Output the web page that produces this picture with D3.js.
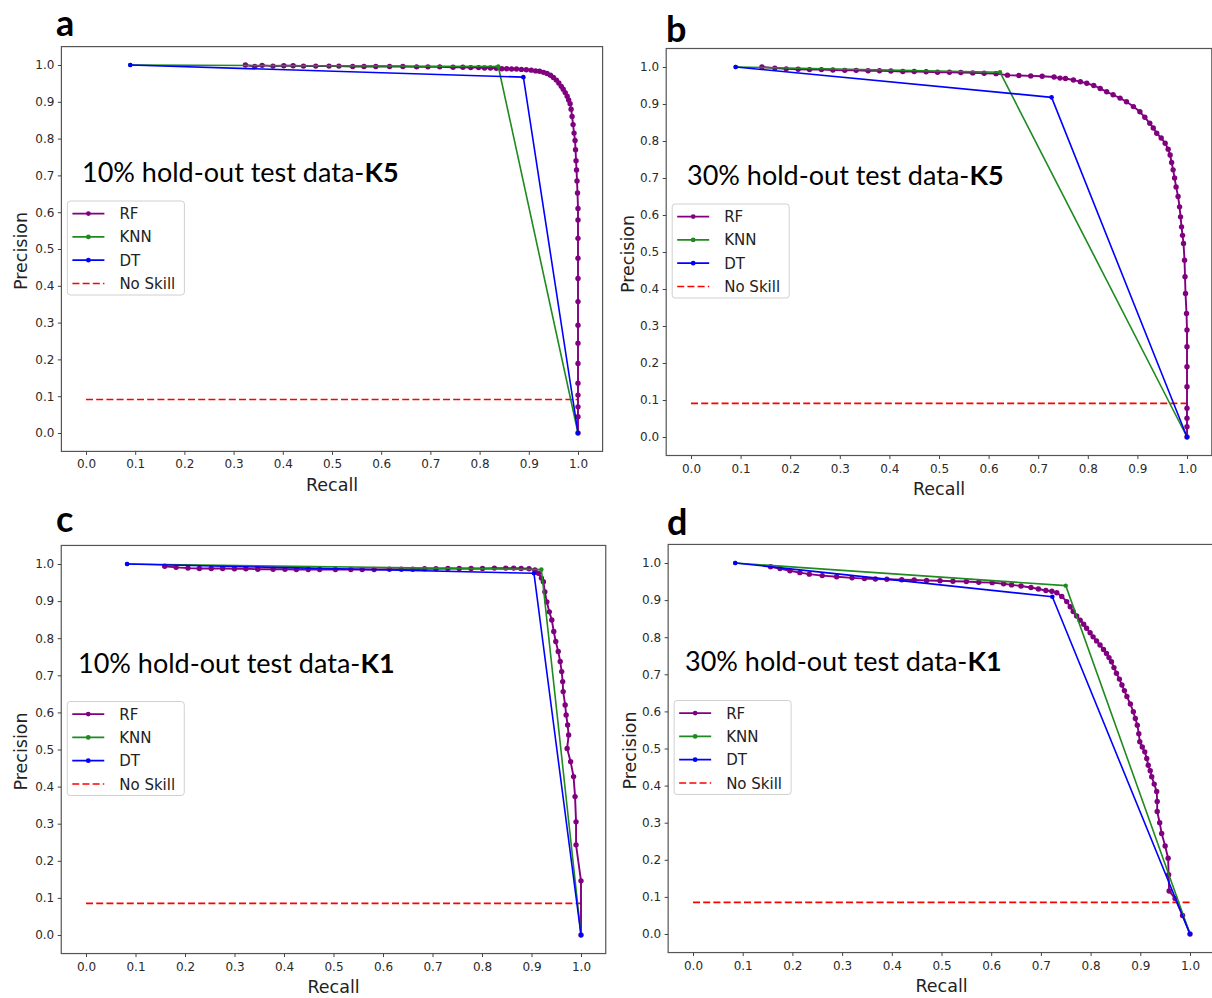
<!DOCTYPE html>
<html>
<head>
<meta charset="utf-8">
<script src="https://cdn.jsdelivr.net/npm/d3@7"></script>
<style>
  body { margin: 0; background: #fff; }
  svg { display: block; }
  .tick text { font-family: "DejaVu Sans", sans-serif; font-size: 12px; fill: #2a2a2a; }
  .tick line { stroke: #444; }
</style>
</head>
<body>
<svg id="fig" width="1212" height="998"></svg>
<script>
// ---------------- data ----------------
const xTicks = [0.0, 0.1, 0.2, 0.3, 0.4, 0.5, 0.6, 0.7, 0.8, 0.9, 1.0];
const yTicks = [0.0, 0.1, 0.2, 0.3, 0.4, 0.5, 0.6, 0.7, 0.8, 0.9, 1.0];
const panelLetters = ["a", "b", "c", "d"];
const noteText = ["10% hold-out test data-", "30% hold-out test data-", "10% hold-out test data-", "30% hold-out test data-"];
const noteBold = ["K5", "K5", "K1", "K1"];
const seriesNames = ["RF", "KNN", "DT", "No Skill"];
const noSkill = [0.091, 0.091, 0.085, 0.085];

// panel a : 10% K5
const rfRecallA = [0.324,0.343,0.358,0.380,0.402,0.421,0.442,0.467,0.494,0.514,0.542,0.565,0.589,0.617,0.644,0.672,0.695,0.719,0.746,0.766,0.782,0.798,0.810,0.822,0.834,0.845,0.855,0.865,0.875,0.885,0.895,0.905,0.914,0.922,0.930,0.937,0.944,0.950,0.956,0.961,0.966,0.970,0.974,0.978,0.981,0.984,0.986,0.988,0.990,0.992,0.994,0.995,0.996,0.997,0.998,0.999,
  1.0,1.0,1.0,1.0,1.0,1.0,1.0,1.0,1.0,1.0,1.0,1.0,1.0,1.0];
const rfPrecisionA = [1.000,0.996,0.999,0.997,0.998,0.998,0.997,0.997,0.997,0.997,0.996,0.996,0.996,0.996,0.996,0.995,0.995,0.995,0.994,0.994,0.993,0.993,0.992,0.992,0.991,0.990,0.990,0.989,0.989,0.988,0.987,0.986,0.984,0.983,0.980,0.977,0.972,0.966,0.959,0.951,0.942,0.934,0.925,0.915,0.905,0.895,0.880,0.860,0.838,0.815,0.795,0.770,0.740,0.715,0.685,0.652,
  0.610,0.579,0.529,0.475,0.420,0.357,0.293,0.244,0.189,0.135,0.103,0.071,0.044,0.0];
const knnRecallA = [0.09, 0.838, 1.0];
const knnPrecisionA = [1.0, 0.996, 0.0];
const dtRecallA = [0.09, 0.889, 1.0];
const dtPrecisionA = [1.0, 0.967, 0.0];

// panel b : 30% K5
const rfRecallB = [0.143,0.169,0.192,0.216,0.239,0.263,0.286,0.310,0.333,0.357,0.380,0.403,0.427,0.450,0.474,0.497,0.521,0.544,0.568,0.591,0.615,0.638,0.661,0.685,0.708,0.732,0.744,0.755,0.771,0.785,0.798,0.812,0.825,0.838,0.851,0.865,0.878,0.892,0.905,0.915,0.925,0.932,0.939,0.948,0.956,0.962,0.966,0.969,0.972,0.975,0.978,0.982,0.985,0.987,0.989,0.991,0.993,0.995,0.996,0.997,0.999,
  1.0,1.0,1.0,1.0,1.0,1.0,1.0,1.0];
const rfPrecisionB = [1.000,0.997,0.995,0.994,0.993,0.993,0.992,0.991,0.991,0.990,0.990,0.989,0.988,0.988,0.987,0.986,0.986,0.985,0.984,0.983,0.982,0.978,0.977,0.976,0.975,0.973,0.970,0.969,0.965,0.960,0.956,0.950,0.942,0.933,0.925,0.916,0.906,0.893,0.879,0.864,0.848,0.835,0.821,0.808,0.794,0.778,0.762,0.742,0.722,0.700,0.676,0.650,0.622,0.595,0.568,0.545,0.523,0.478,0.433,0.388,0.334,
  0.289,0.244,0.190,0.136,0.078,0.051,0.028,0.0];
const knnRecallB = [0.09, 0.623, 1.0];
const knnPrecisionB = [1.0, 0.986, 0.0];
const dtRecallB = [0.09, 0.727, 1.0];
const dtPrecisionB = [1.0, 0.918, 0.0];

// panel c : 10% K1
const rfRecallC = [0.159,0.182,0.206,0.229,0.253,0.276,0.300,0.323,0.347,0.378,0.402,0.425,0.449,0.472,0.504,0.535,0.558,0.582,0.613,0.637,0.660,0.684,0.707,0.731,0.754,0.778,0.801,0.825,0.848,0.864,0.879,0.895,0.907,
  0.914,0.920,0.924,0.927,0.931,0.936,0.941,0.945,0.949,0.954,0.958,0.961,0.963,0.964,0.968,0.970,0.973,0.975,0.972,0.979,0.985,0.988,0.990,0.990,1.0,1.0];
const rfPrecisionC = [0.994,0.991,0.989,0.988,0.988,0.988,0.987,0.987,0.986,0.986,0.986,0.985,0.985,0.985,0.985,0.985,0.985,0.985,0.986,0.986,0.986,0.987,0.987,0.988,0.988,0.988,0.988,0.989,0.989,0.989,0.988,0.987,0.984,
  0.975,0.962,0.952,0.925,0.898,0.871,0.849,0.818,0.791,0.764,0.737,0.710,0.683,0.656,0.620,0.593,0.566,0.539,0.503,0.467,0.427,0.373,0.305,0.243,0.146,0.0];
const knnRecallC = [0.083, 0.920, 1.0];
const knnPrecisionC = [1.0, 0.985, 0.0];
const dtRecallC = [0.083, 0.905, 1.0];
const dtPrecisionC = [1.0, 0.975, 0.0];

// panel d : 30% K1
const rfRecallD = [0.156,0.175,0.195,0.215,0.234,0.260,0.289,0.320,0.345,0.367,0.390,0.420,0.445,0.470,0.497,0.523,0.550,0.575,0.602,0.625,0.641,0.660,0.680,0.695,0.710,0.722,0.732,0.742,0.752,0.759,0.765,0.772,0.779,0.786,0.792,0.799,0.805,0.812,0.819,0.826,0.832,0.837,0.842,0.847,0.852,0.858,0.863,0.868,0.873,0.880,0.886,0.890,0.894,0.897,0.899,0.904,0.909,0.913,0.916,0.920,0.923,0.928,0.933,0.934,0.934,0.939,0.943,0.950,0.956,0.957,0.958,0.970,0.985,1.0];
const rfPrecisionD = [0.990,0.985,0.979,0.974,0.970,0.966,0.963,0.960,0.958,0.957,0.956,0.955,0.954,0.953,0.952,0.951,0.950,0.948,0.947,0.944,0.941,0.938,0.934,0.930,0.926,0.924,0.920,0.910,0.896,0.882,0.869,0.857,0.846,0.835,0.824,0.812,0.801,0.790,0.779,0.767,0.756,0.745,0.734,0.718,0.703,0.687,0.671,0.656,0.640,0.620,0.599,0.581,0.563,0.540,0.518,0.504,0.491,0.473,0.455,0.440,0.424,0.404,0.384,0.357,0.330,0.300,0.271,0.237,0.204,0.160,0.116,0.096,0.050,0.0];
const knnRecallD = [0.085, 0.750, 1.0];
const knnPrecisionD = [1.0, 0.939, 0.0];
const dtRecallD = [0.085, 0.723, 1.0];
const dtPrecisionD = [1.0, 0.909, 0.0];

// ---------------- layout ----------------
const colors = { RF: "#800080", KNN: "#1f8a1f", DT: "#0000ff", "No Skill": "#ff0000" };

const panels = [
  { x0: 61.4, x1: 602.6, y0: 46.6, y1: 451.4, letter: [56, 36], note: [82, 182], ylab: 34.5,
    rf: [rfRecallA, rfPrecisionA], knn: [knnRecallA, knnPrecisionA], dt: [dtRecallA, dtPrecisionA] },
  { x0: 666.2, x1: 1211.8, y0: 48.5, y1: 455.5, letter: [666, 42], note: [687, 185], ylab: 32,
    rf: [rfRecallB, rfPrecisionB], knn: [knnRecallB, knnPrecisionB], dt: [dtRecallB, dtPrecisionB] },
  { x0: 61.25, x1: 605.75, y0: 545.45, y1: 953.55, letter: [56, 532], note: [78, 672.5], ylab: 34.5,
    rf: [rfRecallC, rfPrecisionC], knn: [knnRecallC, knnPrecisionC], dt: [dtRecallC, dtPrecisionC] },
  { x0: 668.15, x1: 1214.85, y0: 544.45, y1: 952.55, letter: [667, 535], note: [685, 670.5], ylab: 32,
    rf: [rfRecallD, rfPrecisionD], knn: [knnRecallD, knnPrecisionD], dt: [dtRecallD, dtPrecisionD] }
];

const svg = d3.select("#fig");
const fmt = d3.format(".1f");

panels.forEach((p, i) => {
  const x = d3.scaleLinear().domain([-0.05, 1.05]).range([p.x0, p.x1]);
  const y = d3.scaleLinear().domain([-0.05, 1.05]).range([p.y1, p.y0]);
  const g = svg.append("g");

  // no skill line
  g.append("line")
    .attr("x1", x(0)).attr("x2", x(1))
    .attr("y1", y(noSkill[i])).attr("y2", y(noSkill[i]))
    .attr("stroke", colors["No Skill"]).attr("stroke-width", 1.7)
    .attr("stroke-dasharray", "7,3.2");

  const line = d3.line().x(d => x(d[0])).y(d => y(d[1]));
  const series = [
    { name: "RF", data: d3.zip(p.rf[0], p.rf[1]), r: 2.7, w: 1.9 },
    { name: "KNN", data: d3.zip(p.knn[0], p.knn[1]), r: 2.2, w: 1.6 },
    { name: "DT", data: d3.zip(p.dt[0], p.dt[1]), r: 2.3, w: 1.6 }
  ];
  series.forEach(s => {
    g.append("path").datum(s.data)
      .attr("d", line)
      .attr("fill", "none")
      .attr("stroke", colors[s.name])
      .attr("stroke-width", s.w)
      .attr("stroke-linejoin", "round");
    g.selectAll(null).data(s.data).enter().append("circle")
      .attr("cx", d => x(d[0])).attr("cy", d => y(d[1]))
      .attr("r", s.r).attr("fill", colors[s.name]);
  });

  // frame
  g.append("rect")
    .attr("x", p.x0).attr("y", p.y0)
    .attr("width", p.x1 - p.x0).attr("height", p.y1 - p.y0)
    .attr("fill", "none").attr("stroke", "#555").attr("stroke-width", 1.2);

  // axes
  const ax = g.append("g").attr("transform", `translate(0,${p.y1})`)
    .call(d3.axisBottom(x).tickValues(xTicks).tickFormat(fmt).tickSize(3.5).tickPadding(5));
  ax.select(".domain").remove();
  const ay = g.append("g").attr("transform", `translate(${p.x0},0)`)
    .call(d3.axisLeft(y).tickValues(yTicks).tickFormat(fmt).tickSize(3.5).tickPadding(3.5));
  ay.select(".domain").remove();

  // axis labels
  g.append("text")
    .attr("x", (p.x0 + p.x1) / 2).attr("y", p.y1 + 39.5)
    .attr("text-anchor", "middle")
    .attr("font-family", "DejaVu Sans, sans-serif").attr("font-size", 17.5)
    .attr("fill", "#222")
    .text("Recall");
  g.append("text")
    .attr("transform", `translate(${p.x0 - p.ylab},${(p.y0 + p.y1) / 2 + 2}) rotate(-90)`)
    .attr("text-anchor", "middle")
    .attr("font-family", "DejaVu Sans, sans-serif").attr("font-size", 17.5)
    .attr("fill", "#222")
    .text("Precision");

  // legend
  const lh = 94, lw = 117;
  const lx = p.x0 + 6, ly = (p.y0 + p.y1) / 2 - 1 - lh / 2;
  const lg = g.append("g").attr("transform", `translate(${lx},${ly})`);
  lg.append("rect").attr("width", lw).attr("height", lh).attr("rx", 3)
    .attr("fill", "#fff").attr("fill-opacity", 0.8)
    .attr("stroke", "#d0d0d0").attr("stroke-width", 1);
  seriesNames.forEach((name, k) => {
    const cy = 12.6 + k * 23.3;
    const ln = lg.append("line").attr("x1", 5).attr("x2", 37).attr("y1", cy).attr("y2", cy)
      .attr("stroke", colors[name]).attr("stroke-width", 1.7);
    if (name === "No Skill") ln.attr("stroke-dasharray", "7,3.2");
    else lg.append("circle").attr("cx", 21).attr("cy", cy).attr("r", 2.4).attr("fill", colors[name]);
    lg.append("text").attr("x", 52).attr("y", cy + 5.5)
      .attr("font-family", "DejaVu Sans, sans-serif").attr("font-size", 15)
      .attr("fill", "#222").text(name);
  });

  // annotation
  const t = svg.append("text").attr("x", p.note[0]).attr("y", p.note[1])
    .attr("font-family", "Lato, sans-serif").attr("font-size", 27).attr("fill", "#000");
  t.append("tspan").text(noteText[i]);
  t.append("tspan").attr("font-weight", "bold").text(noteBold[i]);

  // panel letter
  svg.append("text").attr("x", p.letter[0]).attr("y", p.letter[1])
    .attr("font-family", "Lato, sans-serif").attr("font-weight", "bold").attr("font-size", 36)
    .attr("fill", "#000").text(panelLetters[i]);
});
</script>
</body>
</html>
